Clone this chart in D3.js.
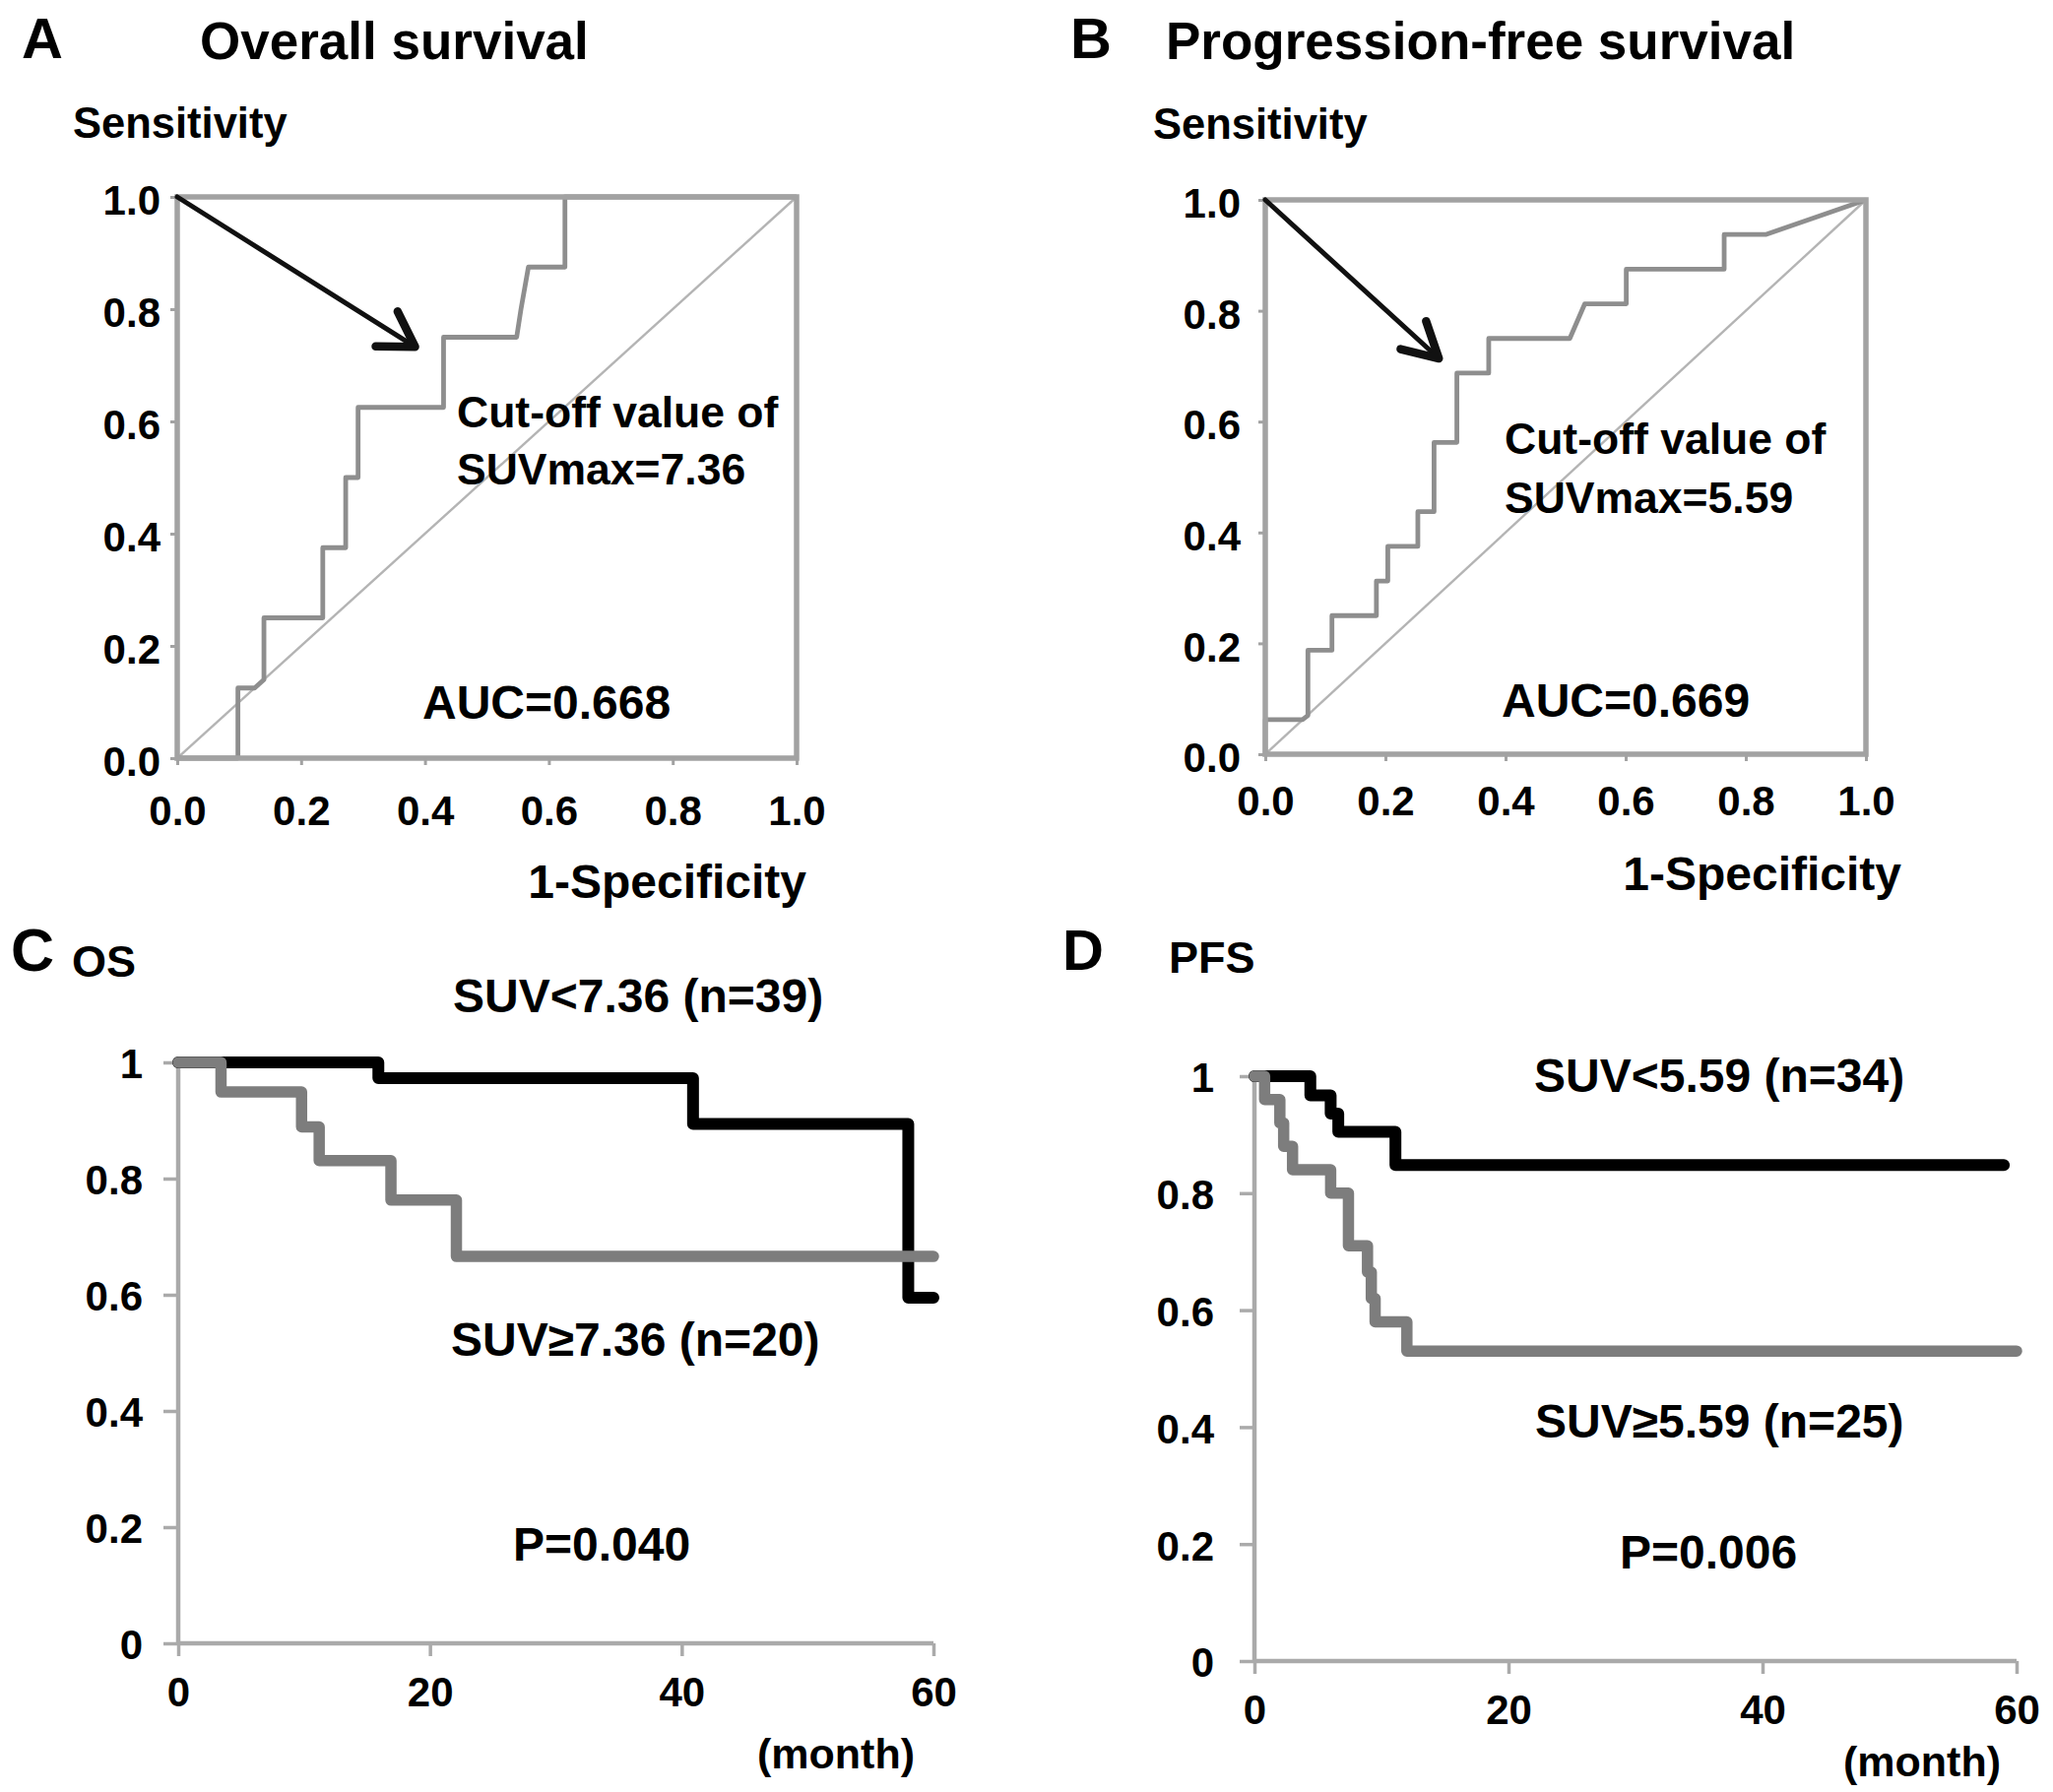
<!DOCTYPE html>
<html><head><meta charset="utf-8">
<script src="https://cdn.jsdelivr.net/npm/d3@7"></script>
<style>
html,body{margin:0;padding:0;background:#fff;}
text{font-family:"Liberation Sans",Arial,Helvetica,sans-serif;font-weight:bold;fill:#000;}
</style></head><body>
<svg id="fig" width="2085" height="1820" xmlns="http://www.w3.org/2000/svg"></svg>
<script>
// ---------------- DATA ----------------
const rocTicks = [0, 0.2, 0.4, 0.6, 0.8, 1.0];
// Panel A: ROC for overall survival (1-specificity, sensitivity)
const rocA_fpr = [0, 0.098, 0.098, 0.125, 0.14, 0.14, 0.235, 0.235, 0.272, 0.272, 0.292, 0.292, 0.43, 0.43, 0.548, 0.555, 0.567, 0.626, 0.626, 1];
const rocA_tpr = [0, 0,     0.125, 0.125, 0.14, 0.25, 0.25,  0.375, 0.375, 0.5,   0.5,   0.625, 0.625, 0.75, 0.75, 0.8,  0.875, 0.875, 1,     1];
const arrowTipA = [0.384, 0.733];
// Panel B: ROC for progression-free survival
const rocB_fpr = [0, 0,      0.062,  0.071, 0.071,  0.111,  0.111, 0.185, 0.185,  0.204,  0.204, 0.254, 0.254,  0.281,  0.281,  0.319,  0.319,  0.372,  0.372, 0.507, 0.532,  0.601,  0.601, 0.764, 0.764,  0.833,  1];
const rocB_tpr = [0, 0.0625, 0.0625, 0.07,  0.1875, 0.1875, 0.25,  0.25,  0.3125, 0.3125, 0.375, 0.375, 0.4375, 0.4375, 0.5625, 0.5625, 0.6875, 0.6875, 0.75,  0.75,  0.8125, 0.8125, 0.875, 0.875, 0.9375, 0.9375, 1];
const arrowTipB = [0.289, 0.714];

const kmXTicks = [0, 20, 40, 60];
const kmYTicks = [0, 0.2, 0.4, 0.6, 0.8, 1];
// Panel C: OS Kaplan-Meier
const osLowT  = [0, 15.9, 40.9, 58.0, 60];
const osLowS  = [1, 0.973, 0.894, 0.595, 0.595];
const osHighT = [0, 3.4, 9.8, 11.2, 16.9, 22.1, 60];
const osHighS = [1, 0.949, 0.889, 0.831, 0.763, 0.666, 0.666];
// Panel D: PFS Kaplan-Meier
const pfsLowT  = [0, 4.4, 6.0, 6.6, 11.1, 59];
const pfsLowS  = [1, 0.967, 0.936, 0.905, 0.848, 0.848];
const pfsHighT = [0, 0.8, 2.0, 2.3, 3.0, 6.0, 7.4, 8.9, 9.2, 9.5, 12.0, 60];
const pfsHighS = [1, 0.96, 0.92, 0.88, 0.84, 0.80, 0.71, 0.665, 0.62, 0.58, 0.53, 0.53];

// ---------------- DRAW ----------------
const svg = d3.select('#fig');
svg.append('rect').attr('width', 2085).attr('height', 1820).attr('fill', '#fff');

const FRAME = '#a2a2a2', ROC = '#8e8e8e', DIAG = '#b4b4b4', KMAXIS = '#aaaaaa';

function txt(x, y, s, size, anchor) {
  return svg.append('text').attr('x', x).attr('y', y).attr('font-size', size)
    .attr('text-anchor', anchor || 'start').text(s);
}
function zip(a, b) { return a.map((v, i) => [v, b[i]]); }

function styleAxis(g, color, w) {
  g.select('.domain').remove();
  g.selectAll('.tick line').attr('stroke', color).attr('stroke-width', w);
  g.selectAll('.tick text').attr('fill', '#000').attr('font-size', 42)
    .attr('font-family', '"Liberation Sans",Arial,sans-serif').attr('font-weight', 'bold');
}

function rocPanel(c) {
  const x = d3.scaleLinear([0, 1], [c.x0, c.x1]);
  const y = d3.scaleLinear([0, 1], [c.y0, c.y1]);
  const g = svg.append('g');
  const gx = g.append('g').attr('transform', `translate(0,${c.y0})`)
    .call(d3.axisBottom(x).tickValues(rocTicks).tickFormat(d3.format('.1f')).tickSize(7).tickPadding(c.xpad));
  styleAxis(gx, FRAME, 3);
  const gy = g.append('g').attr('transform', `translate(${c.x0},0)`)
    .call(d3.axisLeft(y).tickValues(rocTicks).tickFormat(d3.format('.1f')).tickSize(7).tickPadding(c.ypad));
  styleAxis(gy, FRAME, 3);
  gy.selectAll('.tick text').attr('dy', '0.42em');
  // diagonal
  g.append('path').attr('d', d3.line().x(d => x(d[0])).y(d => y(d[1]))([[0, 0], [1, 1]]))
    .attr('stroke', DIAG).attr('stroke-width', 2.4).attr('fill', 'none');
  // ROC curve
  g.append('path').attr('d', d3.line().x(d => x(d[0])).y(d => y(d[1]))(zip(c.fpr, c.tpr)))
    .attr('stroke', ROC).attr('stroke-width', 4.8).attr('fill', 'none').attr('stroke-linejoin', 'round');
  // frame
  g.append('rect').attr('x', x(0)).attr('y', y(1)).attr('width', x(1) - x(0)).attr('height', y(0) - y(1))
    .attr('fill', 'none').attr('stroke', FRAME).attr('stroke-width', 5.5);
  // arrow
  const p0 = [x(0), y(1)], p1 = [x(c.tip[0]), y(c.tip[1])];
  g.append('line').attr('x1', p0[0]).attr('y1', p0[1]).attr('x2', p1[0] - 3 * Math.cos(Math.atan2(p1[1] - p0[1], p1[0] - p0[0]))).attr('y2', p1[1] - 3 * Math.sin(Math.atan2(p1[1] - p0[1], p1[0] - p0[0])))
    .attr('stroke', '#111').attr('stroke-width', 5).attr('stroke-linecap', 'round');
  const ang = Math.atan2(p1[1] - p0[1], p1[0] - p0[0]) + Math.PI;
  const L = 40, spread = c.spread;
  const a1 = [p1[0] + L * Math.cos(ang - spread), p1[1] + L * Math.sin(ang - spread)];
  const a2 = [p1[0] + L * Math.cos(ang + spread), p1[1] + L * Math.sin(ang + spread)];
  g.append('path').attr('d', d3.line()([a1, p1, a2])).attr('fill', 'none')
    .attr('stroke', '#111').attr('stroke-width', 8.5).attr('stroke-linejoin', 'round').attr('stroke-linecap', 'round');
  return { x, y };
}

function kmPanel(c) {
  const x = d3.scaleLinear([0, 60], [c.x0, c.x1]);
  const y = d3.scaleLinear([0, 1], [c.y0, c.y1]);
  const g = svg.append('g');
  const gx = g.append('g').attr('transform', `translate(0,${c.y0})`)
    .call(d3.axisBottom(x).tickValues(kmXTicks).tickSize(13).tickPadding(c.xpad));
  styleAxis(gx, KMAXIS, 3.5);
  const gy = g.append('g').attr('transform', `translate(${c.x0},0)`)
    .call(d3.axisLeft(y).tickValues(kmYTicks).tickFormat(d => String(d)).tickSize(15).tickPadding(c.ypad));
  styleAxis(gy, KMAXIS, 3.5);
  gy.selectAll('.tick text').attr('dy', '0.38em');
  g.append('line').attr('x1', x(0)).attr('x2', x(60)).attr('y1', y(0)).attr('y2', y(0))
    .attr('stroke', KMAXIS).attr('stroke-width', 4.5);
  g.append('line').attr('x1', x(0)).attr('x2', x(0)).attr('y1', y(0)).attr('y2', y(1))
    .attr('stroke', KMAXIS).attr('stroke-width', 4.5);
  const line = d3.line().x(d => x(d[0])).y(d => y(d[1])).curve(d3.curveStepAfter);
  g.append('path').attr('d', line(zip(c.lowT, c.lowS))).attr('fill', 'none')
    .attr('stroke', '#000').attr('stroke-width', 12).attr('stroke-linejoin', 'round').attr('stroke-linecap', 'round');
  g.append('path').attr('d', line(zip(c.highT, c.highS))).attr('fill', 'none')
    .attr('stroke', '#7d7d7d').attr('stroke-width', 11.5).attr('stroke-linejoin', 'round').attr('stroke-linecap', 'round');
  return { x, y };
}

// Panel A
rocPanel({ x0: 180, x1: 809, y0: 770, y1: 200, xpad: 31, ypad: 10, fpr: rocA_fpr, tpr: rocA_tpr, tip: arrowTipA, spread: 0.55 });
txt(22, 59, 'A', 58);
txt(203, 60, 'Overall survival', 53);
txt(74, 140, 'Sensitivity', 43.5);
txt(464, 434, 'Cut-off value of', 44.5);
txt(464, 492, 'SUVmax=7.36', 44.5);
txt(429, 730, 'AUC=0.668', 48);
txt(819, 912, '1-Specificity', 48, 'end');

// Panel B
rocPanel({ x0: 1285, x1: 1895, y0: 766, y1: 203, xpad: 25, ypad: 18, fpr: rocB_fpr, tpr: rocB_tpr, tip: arrowTipB, spread: 0.5 });
txt(1087, 59, 'B', 58);
txt(1184, 60, 'Progression-free survival', 53);
txt(1171, 141, 'Sensitivity', 43.5);
txt(1528, 461, 'Cut-off value of', 44.5);
txt(1528, 521, 'SUVmax=5.59', 44.5);
txt(1525, 728, 'AUC=0.669', 48);
txt(1931, 904, '1-Specificity', 48, 'end');

// Panel C
kmPanel({ x0: 181, x1: 948, y0: 1669, y1: 1079, xpad: 21, ypad: 21, lowT: osLowT, lowS: osLowS, highT: osHighT, highS: osHighS });
txt(11, 986, 'C', 61);
txt(73, 992, 'OS', 45);
txt(460, 1028, 'SUV<7.36 (n=39)', 48);
txt(458, 1377, 'SUV\u22657.36 (n=20)', 48);
txt(521, 1585, 'P=0.040', 48);
txt(769, 1796, '(month)', 43);

// Panel D
kmPanel({ x0: 1274, x1: 2048, y0: 1687, y1: 1093, xpad: 21, ypad: 26, lowT: pfsLowT, lowS: pfsLowS, highT: pfsHighT, highS: pfsHighS });
txt(1079, 985, 'D', 58);
txt(1187, 988, 'PFS', 45);
txt(1558, 1109, 'SUV<5.59 (n=34)', 48);
txt(1559, 1460, 'SUV\u22655.59 (n=25)', 48);
txt(1645, 1593, 'P=0.006', 48);
txt(1872, 1804, '(month)', 43);
</script>
</body></html>
